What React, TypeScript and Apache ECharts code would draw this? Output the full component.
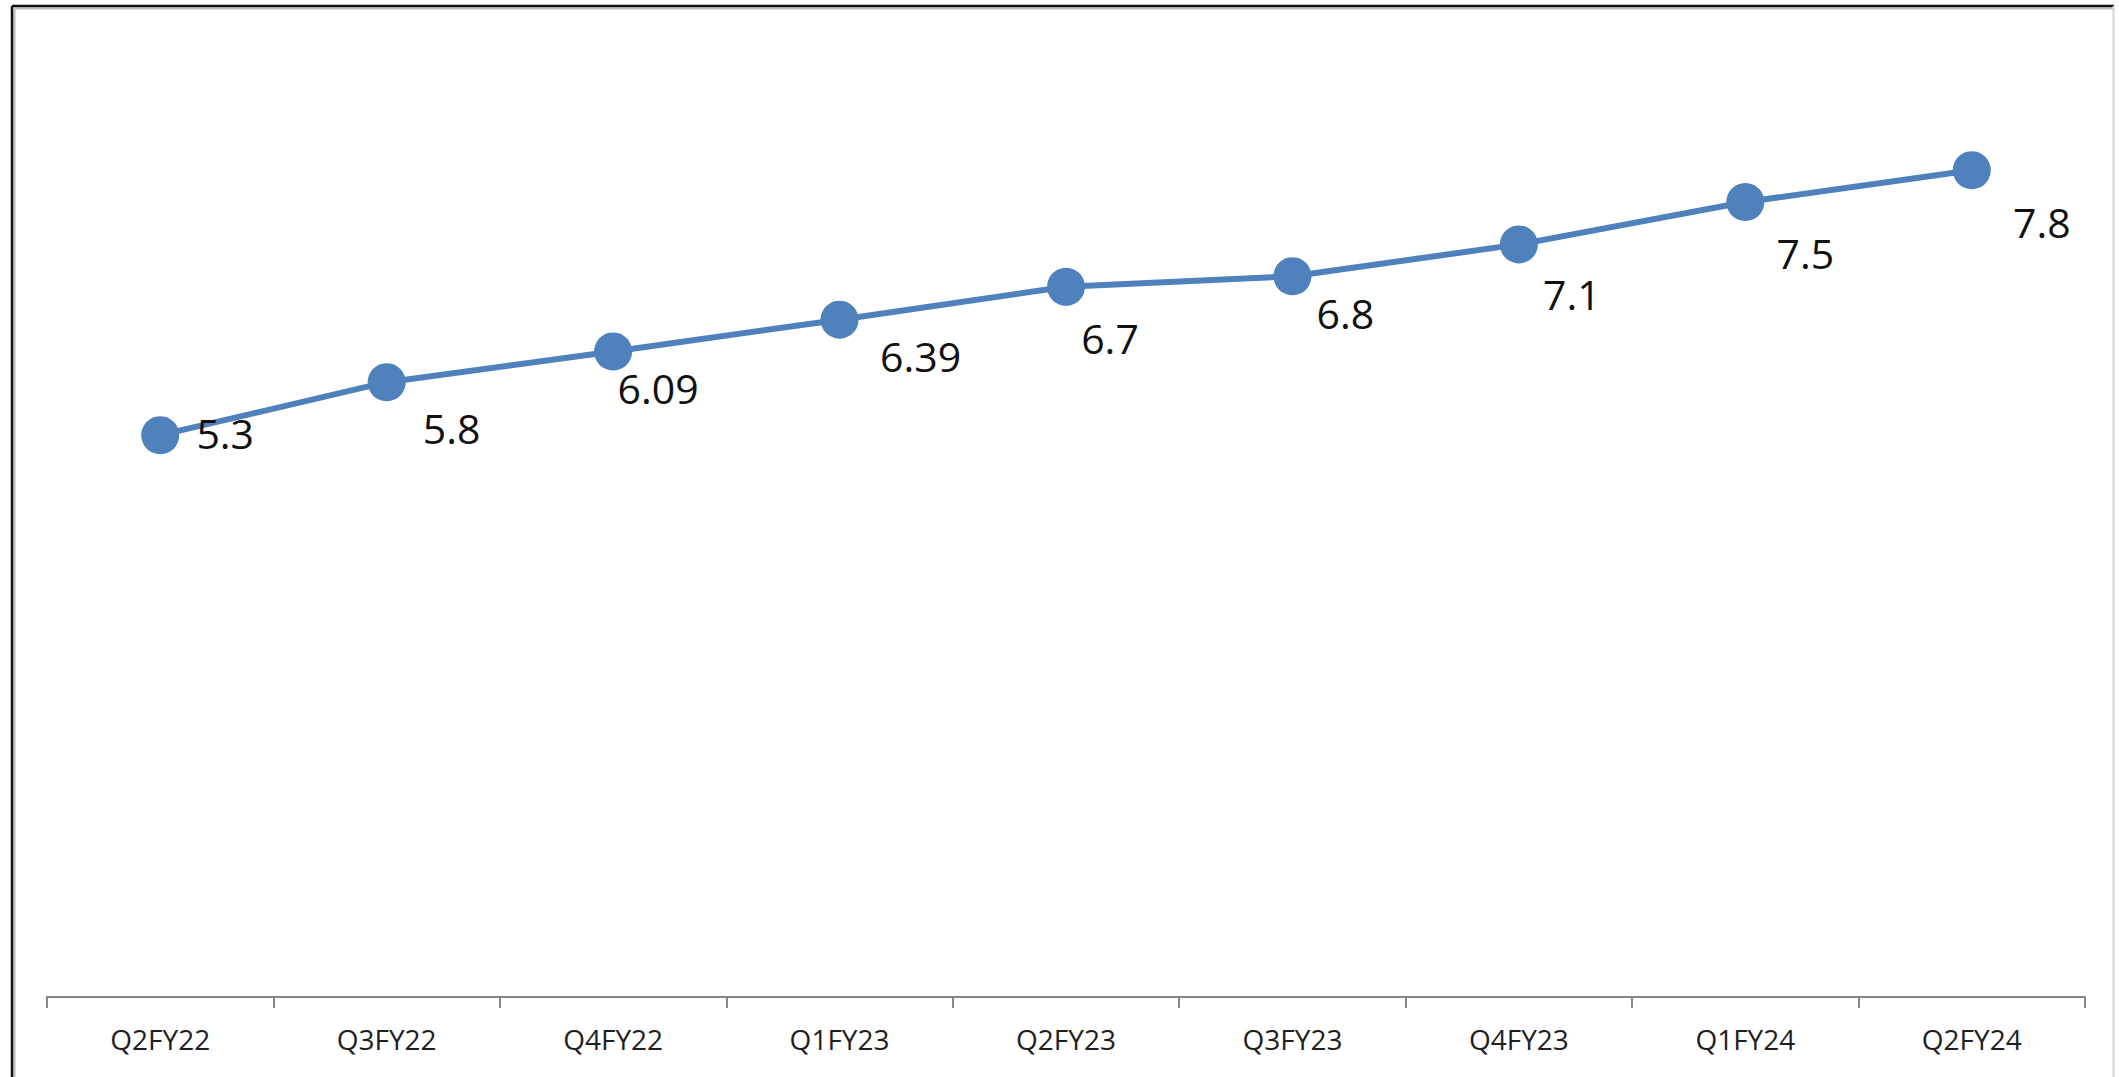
import React, { useEffect, useRef } from "react";
import * as echarts from "echarts";

const categories = ["Q2FY22", "Q3FY22", "Q4FY22", "Q1FY23", "Q2FY23", "Q3FY23", "Q4FY23", "Q1FY24", "Q2FY24"];
const values = [5.3, 5.8, 6.09, 6.39, 6.7, 6.8, 7.1, 7.5, 7.8];
const valueLabels = ["5.3", "5.8", "6.09", "6.39", "6.7", "6.8", "7.1", "7.5", "7.8"];
// label placement (styling only): offset of label centre from marker centre
const labelOffsets: [number, number][] = [
  [65, -2], [65, 46], [45, 37], [81, 36], [44, 51], [53, 37], [53, 50], [60, 51], [70, 52],
];

const W = 2119;
const H = 1077;

export default function App() {
  const ref = useRef<HTMLDivElement>(null);
  useEffect(() => {
    if (!ref.current) return;
    const chart = echarts.init(ref.current, undefined, { renderer: "svg" });
    chart.setOption({
      animation: false,
      backgroundColor: "#ffffff",
      grid: { left: 47, right: 34, top: 43, bottom: 80, containLabel: false },
      xAxis: {
        type: "category",
        data: categories,
        boundaryGap: true,
        axisLine: { show: true, lineStyle: { color: "#868686", width: 2 } },
        axisTick: { show: true, length: 11, alignWithLabel: false, lineStyle: { color: "#868686", width: 2 } },
        axisLabel: {
          margin: 28,
          color: "#1f1f1f",
          fontSize: 28,
          fontFamily: "'Open Sans', sans-serif",
          interval: 0,
        },
        splitLine: { show: false },
      },
      yAxis: {
        type: "value",
        min: 0,
        max: 9,
        show: false,
        splitLine: { show: false },
      },
      series: [
        {
          type: "line",
          data: values.map((v, i) => ({
            value: v,
            label: {
              show: true,
              position: "inside",
              align: "center",
              verticalAlign: "middle",
              offset: labelOffsets[i],
              formatter: valueLabels[i],
            },
          })),
          symbol: "circle",
          symbolSize: 38,
          showAllSymbol: true,
          itemStyle: { color: "#4F81BD" },
          lineStyle: { color: "#4F81BD", width: 6 },
          label: {
            show: true,
            color: "#111111",
            fontSize: 41,
            fontFamily: "'Open Sans', sans-serif",
          },
          z: 3,
        },
      ],
      graphic: [
        { type: "line", shape: { x1: 14.5, y1: 8.5, x2: 2113, y2: 8.5 }, style: { stroke: "#bdbdbd", lineWidth: 2 }, silent: true },
        { type: "line", shape: { x1: 14.5, y1: 8.5, x2: 14.5, y2: H }, style: { stroke: "#bdbdbd", lineWidth: 2 }, silent: true },
        { type: "line", shape: { x1: 12, y1: 6, x2: 2114, y2: 6 }, style: { stroke: "#111111", lineWidth: 2.5 }, silent: true },
        { type: "line", shape: { x1: 12, y1: 6, x2: 12, y2: H }, style: { stroke: "#111111", lineWidth: 2.5 }, silent: true },
        { type: "line", shape: { x1: 2113.5, y1: 6, x2: 2113.5, y2: H }, style: { stroke: "#d4d4d4", lineWidth: 2 }, silent: true },
      ],
    });
    return () => chart.dispose();
  }, []);
  return (
    <div
      ref={ref}
      style={{ position: "absolute", left: 0, top: 0, width: W, height: H }}
    />
  );
}
